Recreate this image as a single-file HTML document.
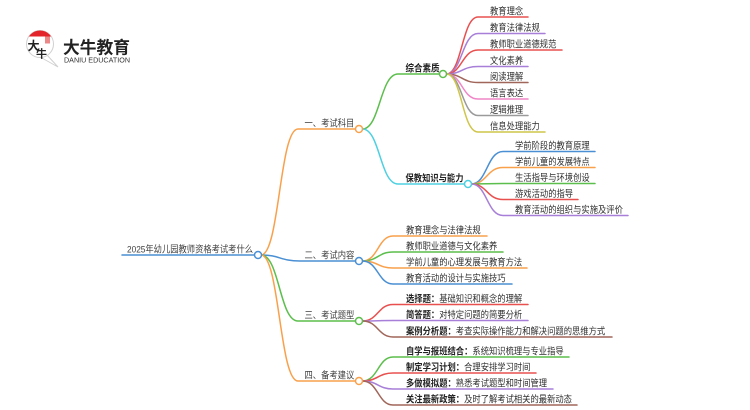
<!DOCTYPE html>
<html>
<head>
<meta charset="utf-8">
<style>
  html,body{margin:0;padding:0;background:#fff;}
  svg{display:block;}
  text{font-family:"Liberation Sans","Noto Sans CJK SC",sans-serif;fill:#333;}
  .l{font-size:9.5px;fill:#2e2e2e;}
  .b{font-size:9.5px;font-weight:bold;fill:#222;}
  .br{font-size:9.5px;fill:#404040;}
  path{fill:none;stroke-width:1.5;stroke-linecap:round;}
  circle.n{fill:#fff;stroke-width:1.5;}
</style>
</head>
<body>
<svg width="750" height="410" viewBox="0 0 750 410" xmlns="http://www.w3.org/2000/svg">
  <defs>
    <clipPath id="cc"><circle cx="40" cy="44" r="13.5"/></clipPath>
  </defs>
  <!-- Logo -->
  <g>
    <path d="M47 55 L58 67 L41 57.5" style="fill:#fff;stroke:#d0d0d0;stroke-width:1;"/>
    <circle cx="40" cy="44" r="13.5" style="fill:#fff;stroke:#d0d0d0;stroke-width:1;"/>
    <rect x="26" y="29" width="30" height="7.5" fill="#e3242b" clip-path="url(#cc)"/>
    <rect x="45" y="36.5" width="5" height="7" fill="#e86a6a" opacity="0.8"/>
    <text x="27.5" y="50" style="font-size:12px;font-weight:bold;fill:#222;">大</text>
    <text x="36" y="57.5" style="font-size:11px;font-weight:bold;fill:#222;">牛</text>
    <text x="63" y="53.5" textLength="67" lengthAdjust="spacingAndGlyphs" style="font-size:17px;font-weight:bold;fill:#222;">大牛教育</text>
    <text x="64" y="62.5" textLength="66" lengthAdjust="spacingAndGlyphs" style="font-size:7px;fill:#333;">DANIU EDUCATION</text>
  </g>

  <!-- root line -->
  <path d="M122 255 H254.5" stroke="#4a8fd4"/>
  <!-- root to branches -->
  <path d="M261 255 C279.5 255, 279.5 129, 298 129 H355.5" stroke="#f9a04b"/>
  <path d="M261 255 C280 255, 280 261, 300 261 H355.5" stroke="#4a8fd4"/>
  <path d="M261 255 C279.5 255, 279.5 321, 298 321 H355.5" stroke="#5cbe4c"/>
  <path d="M261 255 C279.5 255, 279.5 381, 298 381 H355.5" stroke="#f9a04b"/>

  <!-- branch1 subs -->
  <path d="M362.5 129 C380 129, 380 74, 398 74 H439.5" stroke="#5cbe4c"/>
  <path d="M362.5 129 C380 129, 380 184, 398 184 H464.5" stroke="#4dd0e1"/>

  <!-- 综合素质 leaves -->
  <path d="M446.5 74 C462 74, 462 17, 478 17 H528" stroke="#e8504f"/>
  <path d="M446.5 74 C462 74, 462 33.5, 478 33.5 H545" stroke="#a77fd8"/>
  <path d="M446.5 74 C462 74, 462 50, 478 50 H562" stroke="#e8504f"/>
  <path d="M446.5 74 C462 74, 462 66.5, 478 66.5 H528" stroke="#a77fd8"/>
  <path d="M446.5 74 C462 74, 462 82.5, 478 82.5 H528" stroke="#a0665a"/>
  <path d="M446.5 74 C462 74, 462 99, 478 99 H528" stroke="#ef86c7"/>
  <path d="M446.5 74 C462 74, 462 115.5, 478 115.5 H528" stroke="#9a9a9a"/>
  <path d="M446.5 74 C462 74, 462 132, 478 132 H545" stroke="#cfc54a"/>

  <!-- 保教 leaves -->
  <path d="M471.5 184 C487 184, 487 151.5, 503 151.5 H595" stroke="#4a8fd4"/>
  <path d="M471.5 184 C487 184, 487 167.5, 503 167.5 H595" stroke="#f9a04b"/>
  <path d="M471.5 184 C487 184, 487 183.5, 503 183.5 H595" stroke="#5cbe4c"/>
  <path d="M471.5 184 C487 184, 487 199.5, 503 199.5 H578" stroke="#e8504f"/>
  <path d="M471.5 184 C487 184, 487 215.5, 503 215.5 H628" stroke="#a77fd8"/>

  <!-- branch2 leaves -->
  <path d="M362.5 261 C378 261, 378 236, 393 236 H487" stroke="#f9a04b"/>
  <path d="M362.5 261 C378 261, 378 252, 393 252 H503" stroke="#5cbe4c"/>
  <path d="M362.5 261 C378 261, 378 268, 393 268 H527" stroke="#f9a04b"/>
  <path d="M362.5 261 C378 261, 378 284, 393 284 H512" stroke="#4a8fd4"/>

  <!-- branch3 leaves -->
  <path d="M362.5 321 C378 321, 378 304.5, 393 304.5 H528" stroke="#e8504f"/>
  <path d="M362.5 321 C378 321, 378 320.5, 393 320.5 H528" stroke="#a77fd8"/>
  <path d="M362.5 321 C378 321, 378 337, 393 337 H612" stroke="#a0665a"/>

  <!-- branch4 leaves -->
  <path d="M362.5 381 C378 381, 378 357, 393 357 H569" stroke="#5cbe4c"/>
  <path d="M362.5 381 C378 381, 378 373, 393 373 H536" stroke="#e8504f"/>
  <path d="M362.5 381 C378 381, 378 389, 393 389 H553" stroke="#a77fd8"/>
  <path d="M362.5 381 C378 381, 378 405, 393 405 H577" stroke="#a0665a"/>

  <!-- circles -->
  <circle class="n" cx="258" cy="255" r="3.5" stroke="#4a8fd4"/>
  <circle class="n" cx="359" cy="129" r="3.5" stroke="#f9a04b"/>
  <circle class="n" cx="359" cy="261" r="3.5" stroke="#4a8fd4"/>
  <circle class="n" cx="359" cy="321" r="3.5" stroke="#5cbe4c"/>
  <circle class="n" cx="359" cy="381" r="3.5" stroke="#f9a04b"/>
  <circle class="n" cx="443" cy="74" r="3.5" stroke="#5cbe4c"/>
  <circle class="n" cx="468" cy="184" r="3.5" stroke="#4dd0e1"/>

  <!-- texts -->
  <text class="br" x="127" y="252.5" textLength="126" lengthAdjust="spacingAndGlyphs">2025年幼儿园教师资格考试考什么</text>

  <text class="br" x="304.5" y="126.5" textLength="49.8" lengthAdjust="spacingAndGlyphs">一、考试科目</text>
  <text class="br" x="304.5" y="258.5" textLength="49.8" lengthAdjust="spacingAndGlyphs">二、考试内容</text>
  <text class="br" x="304.5" y="318.5" textLength="49.8" lengthAdjust="spacingAndGlyphs">三、考试题型</text>
  <text class="br" x="304.5" y="378.5" textLength="49.8" lengthAdjust="spacingAndGlyphs">四、备考建议</text>

  <text class="b" x="405.5" y="71.5" textLength="34" lengthAdjust="spacingAndGlyphs">综合素质</text>
  <text class="b" x="405.5" y="181.5" textLength="58" lengthAdjust="spacingAndGlyphs">保教知识与能力</text>

  <text class="l" x="490" y="14.5" textLength="33.2" lengthAdjust="spacingAndGlyphs">教育理念</text>
  <text class="l" x="490" y="31" textLength="49.8" lengthAdjust="spacingAndGlyphs">教育法律法规</text>
  <text class="l" x="490" y="47.5" textLength="66.4" lengthAdjust="spacingAndGlyphs">教师职业道德规范</text>
  <text class="l" x="490" y="64" textLength="33.2" lengthAdjust="spacingAndGlyphs">文化素养</text>
  <text class="l" x="490" y="80" textLength="33.2" lengthAdjust="spacingAndGlyphs">阅读理解</text>
  <text class="l" x="490" y="96.5" textLength="33.2" lengthAdjust="spacingAndGlyphs">语言表达</text>
  <text class="l" x="490" y="113" textLength="33.2" lengthAdjust="spacingAndGlyphs">逻辑推理</text>
  <text class="l" x="490" y="129.5" textLength="49.8" lengthAdjust="spacingAndGlyphs">信息处理能力</text>

  <text class="l" x="515" y="149" textLength="74.7" lengthAdjust="spacingAndGlyphs">学前阶段的教育原理</text>
  <text class="l" x="515" y="165" textLength="74.7" lengthAdjust="spacingAndGlyphs">学前儿童的发展特点</text>
  <text class="l" x="515" y="181" textLength="74.7" lengthAdjust="spacingAndGlyphs">生活指导与环境创设</text>
  <text class="l" x="515" y="197" textLength="58.1" lengthAdjust="spacingAndGlyphs">游戏活动的指导</text>
  <text class="l" x="515" y="213" textLength="107.9" lengthAdjust="spacingAndGlyphs">教育活动的组织与实施及评价</text>

  <text class="l" x="406" y="233.5" textLength="74.7" lengthAdjust="spacingAndGlyphs">教育理念与法律法规</text>
  <text class="l" x="406" y="249.5" textLength="91.3" lengthAdjust="spacingAndGlyphs">教师职业道德与文化素养</text>
  <text class="l" x="406" y="265.5" textLength="116.2" lengthAdjust="spacingAndGlyphs">学前儿童的心理发展与教育方法</text>
  <text class="l" x="406" y="281.5" textLength="99.6" lengthAdjust="spacingAndGlyphs">教育活动的设计与实施技巧</text>

  <text class="b" x="406" y="302" textLength="33.2" lengthAdjust="spacingAndGlyphs">选择题：</text>
  <text class="l" x="439.2" y="302" textLength="83" lengthAdjust="spacingAndGlyphs">基础知识和概念的理解</text>
  <text class="b" x="406" y="318" textLength="33.2" lengthAdjust="spacingAndGlyphs">简答题：</text>
  <text class="l" x="439.2" y="318" textLength="83" lengthAdjust="spacingAndGlyphs">对特定问题的简要分析</text>
  <text class="b" x="406" y="334.5" textLength="49.8" lengthAdjust="spacingAndGlyphs">案例分析题：</text>
  <text class="l" x="455.8" y="334.5" textLength="149.4" lengthAdjust="spacingAndGlyphs">考查实际操作能力和解决问题的思维方式</text>

  <text class="b" x="406" y="354.5" textLength="66.4" lengthAdjust="spacingAndGlyphs">自学与报班结合：</text>
  <text class="l" x="472.4" y="354.5" textLength="91.3" lengthAdjust="spacingAndGlyphs">系统知识梳理与专业指导</text>
  <text class="b" x="406" y="370.5" textLength="58.1" lengthAdjust="spacingAndGlyphs">制定学习计划：</text>
  <text class="l" x="464.1" y="370.5" textLength="66.4" lengthAdjust="spacingAndGlyphs">合理安排学习时间</text>
  <text class="b" x="406" y="386.5" textLength="49.8" lengthAdjust="spacingAndGlyphs">多做模拟题：</text>
  <text class="l" x="455.8" y="386.5" textLength="91.3" lengthAdjust="spacingAndGlyphs">熟悉考试题型和时间管理</text>
  <text class="b" x="406" y="402.5" textLength="58.1" lengthAdjust="spacingAndGlyphs">关注最新政策：</text>
  <text class="l" x="464.1" y="402.5" textLength="107.9" lengthAdjust="spacingAndGlyphs">及时了解考试相关的最新动态</text>
</svg>
</body>
</html>
